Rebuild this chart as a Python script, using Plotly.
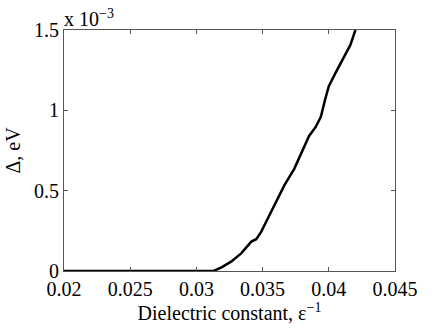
import plotly.graph_objects as go

# dielectric constant (inverse) vs gap, gap in units of 1e-3 eV
eps_inv = [0.020, 0.025, 0.030, 0.0313, 0.0319, 0.03265, 0.0334, 0.03415, 0.03452,
           0.0349, 0.03527, 0.03564, 0.03615, 0.03664, 0.03739, 0.03802, 0.03851,
           0.03900, 0.03940, 0.0397, 0.0400, 0.04051, 0.04101, 0.04163, 0.04201]
gap = [0.0, 0.0, 0.0, 0.0, 0.023, 0.060, 0.111, 0.183, 0.198,
       0.245, 0.307, 0.369, 0.451, 0.533, 0.636, 0.749, 0.841,
       0.895, 0.960, 1.06, 1.15, 1.233, 1.315, 1.407, 1.500]

x_ticks = [0.02, 0.025, 0.03, 0.035, 0.04, 0.045]
x_labels = ["0.02", "0.025", "0.03", "0.035", "0.04", "0.045"]
y_ticks = [0, 0.5e-3, 1e-3, 1.5e-3]
y_labels = ["0", "0.5", "1", "1.5"]

serif = "Liberation Serif, Times New Roman, serif"
font = dict(family=serif, size=20, color="black")

fig = go.Figure()
fig.add_trace(go.Scatter(
    x=eps_inv, y=[g * 1e-3 for g in gap],
    mode="lines", line=dict(color="black", width=2.5),
))

fig.update_layout(
    width=436, height=328,
    margin=dict(l=61, r=41, t=30, b=55),
    paper_bgcolor="white", plot_bgcolor="white",
    showlegend=False, font=font,
)

fig.update_xaxes(
    range=[0.02, 0.045], tickvals=x_ticks, ticktext=x_labels,
    tickfont=font,
    showgrid=False, zeroline=False,
    showline=True, linecolor="#555", linewidth=1, mirror="ticks",
    ticks="inside", ticklen=4, tickcolor="#555",
    title=dict(text="Dielectric constant, ε<sup>−1</sup>", font=font, standoff=2),
)
fig.update_yaxes(
    range=[0, 1.5e-3], tickvals=y_ticks, ticktext=y_labels,
    tickfont=font,
    showgrid=False, zeroline=False,
    showline=True, linecolor="#555", linewidth=1, mirror="ticks",
    ticks="inside", ticklen=4, tickcolor="#555",
    title=dict(text="Δ, eV", font=font, standoff=8),
)

fig.add_annotation(
    text="x 10<sup>−3</sup>", xref="paper", yref="paper",
    x=0, y=1, xanchor="left", yanchor="bottom", showarrow=False,
    font=font, yshift=-2, xshift=-2,
)

# drop the default 8px page margin so the figure fills the window
fig.write_html(
    "out.html",
    config={"displayModeBar": False},
    post_script="document.body.style.margin='0';",
)
